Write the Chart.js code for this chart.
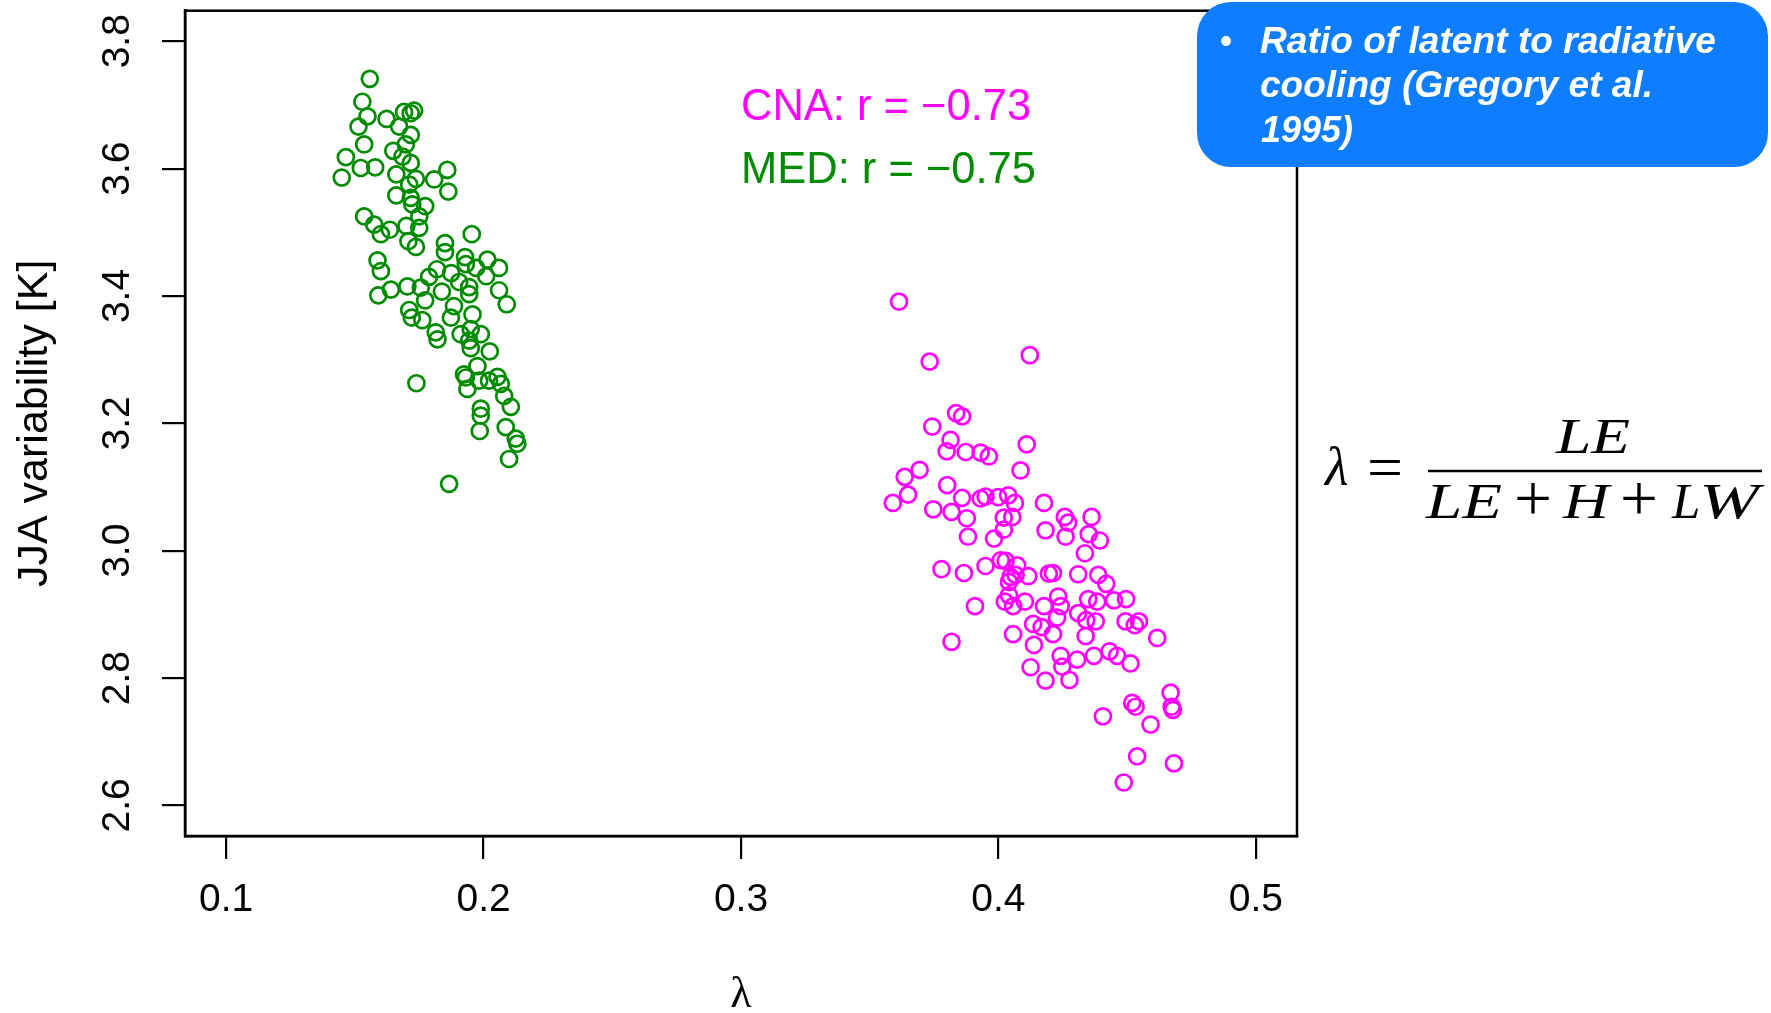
<!DOCTYPE html>
<html><head><meta charset="utf-8">
<script src="https://cdn.jsdelivr.net/npm/chart.js@4/dist/chart.umd.min.js"></script>
<style>
html,body{margin:0;padding:0;background:#fff;width:1771px;height:1013px;overflow:hidden}
#wrap{position:relative;width:1771px;height:1013px}
#c{position:absolute;left:0;top:0}
#ov{position:absolute;left:0;top:0}
</style></head><body>
<div id="wrap">
<canvas id="c" width="1771" height="1013"></canvas>
<svg id="ov" width="1771" height="1013" xmlns="http://www.w3.org/2000/svg">
  <rect x="1197" y="2" width="571" height="165" rx="34" ry="34" fill="#0F7DFF"/>
  <text x="1226" y="53" font-family="'Liberation Sans', Arial, sans-serif" font-size="36" fill="#fff" text-anchor="middle">•</text>
  <g font-family="'Liberation Sans', Arial, sans-serif" font-size="37" font-weight="bold" font-style="italic" fill="#fff">
    <text x="1260" y="53" textLength="456" lengthAdjust="spacingAndGlyphs">Ratio of latent to radiative</text>
    <text x="1260" y="97" textLength="393" lengthAdjust="spacingAndGlyphs">cooling (Gregory et al.</text>
    <text x="1261" y="142" textLength="92" lengthAdjust="spacingAndGlyphs">1995)</text>
  </g>
  <g font-family="'Liberation Serif', 'DejaVu Serif', serif" font-size="50" fill="#000">
    <text x="1325" y="485" font-style="italic" font-size="54">λ</text>
    <text x="1367" y="488" font-size="62" textLength="36" lengthAdjust="spacingAndGlyphs">=</text>
    <line x1="1428" y1="471" x2="1762" y2="471" stroke="#000" stroke-width="2.4"/>
    <text x="1556" y="453" font-style="italic" textLength="74" lengthAdjust="spacingAndGlyphs">LE</text>
    <text x="1426" y="518" font-style="italic" textLength="76" lengthAdjust="spacingAndGlyphs">LE</text>
    <text x="1514" y="520" font-size="66" textLength="38" lengthAdjust="spacingAndGlyphs">+</text>
    <text x="1563" y="518" font-style="italic" textLength="46" lengthAdjust="spacingAndGlyphs">H</text>
    <text x="1620" y="520" font-size="66" textLength="38" lengthAdjust="spacingAndGlyphs">+</text>
    <text x="1672" y="518" font-style="italic" font-size="51">L</text>
    <text x="1699" y="518" font-style="italic" font-size="51" textLength="60" lengthAdjust="spacingAndGlyphs">W</text>
  </g>
</svg>
</div>
<script>
// ---- data ----
const xTickValues = [0.1, 0.2, 0.3, 0.4, 0.5];
const xTickLabels = ['0.1', '0.2', '0.3', '0.4', '0.5'];
const yTickValues = [2.6, 2.8, 3.0, 3.2, 3.4, 3.6, 3.8];
const yTickLabels = ['2.6', '2.8', '3.0', '3.2', '3.4', '3.6', '3.8'];
const xTitle = 'λ';
const yTitle = 'JJA variability [K]';
const seriesNames = ['MED', 'CNA'];
const annotationTexts = ['CNA: r = \u22120.73', 'MED: r = \u22120.75'];

const medLambda = [0.1558,0.1529,0.1549,0.1514,0.1623,0.1691,0.1717,0.1730,0.1672,0.1717,0.1536,0.1465,0.1523,0.1579,0.1449,0.1649,0.1698,0.1685,0.1717,0.1661,0.1737,0.1711,0.1808,0.1859,0.1863,0.1661,0.1717,0.1723,0.1773,0.1536,0.1575,0.1601,0.1636,0.1700,0.1750,0.1708,0.1737,0.1750,0.1954,0.1850,0.1850,0.1928,0.2015,0.2060,0.1588,0.1601,
  0.1788,0.1819,0.1874,0.1905,0.1931,0.1971,0.1944,0.2010,
  0.1591,0.1640,0.1704,0.1756,0.1773,0.1838,0.2060,0.2090,0.1711,0.1721,0.1762,0.1885,0.1873,0.1944,0.1957,0.1814,0.1821,0.1911,0.1950,0.1989,0.1944,0.1950,0.2024,0.1976,0.1924,0.1931,0.1937,0.1983,0.2021,0.2054,0.2067,0.2080,0.2106,0.1739,0.1989,0.1989,0.1985,0.2086,0.2125,0.2131,0.2099,0.1866];
const medVar = [3.741,3.705,3.682,3.666,3.678,3.689,3.687,3.691,3.666,3.653,3.638,3.618,3.601,3.602,3.586,3.628,3.638,3.619,3.609,3.591,3.584,3.575,3.583,3.598,3.564,3.558,3.554,3.544,3.541,3.525,3.512,3.497,3.504,3.510,3.507,3.486,3.477,3.525,3.497,3.483,3.469,3.461,3.457,3.444,3.456,3.439,
  3.430,3.442,3.436,3.422,3.450,3.444,3.414,3.431,
  3.401,3.410,3.415,3.413,3.393,3.407,3.409,3.387,3.378,3.366,3.362,3.384,3.366,3.403,3.371,3.343,3.332,3.340,3.348,3.340,3.330,3.318,3.313,3.290,3.277,3.272,3.254,3.267,3.267,3.273,3.262,3.243,3.226,3.263,3.223,3.212,3.188,3.194,3.176,3.168,3.144,3.105];

const cnaLambda = [0.3614,0.3733,0.4122,0.3836,0.3859,0.3743,0.3814,0.3799,0.3873,0.3931,0.3963,0.4110,0.4086,0.3694,0.3636,0.3649,0.3590,0.3801,0.3859,0.3747,0.3818,0.3877,0.3931,0.3950,0.3999,0.4038,0.4064,0.4021,0.4054,0.4177,0.4021,0.3882,0.3983,0.4183,
  0.4258,0.4271,0.4362,0.4351,0.4261,0.4394,
  0.3779,0.3866,0.3950,0.4009,0.4028,0.4073,0.4047,0.4067,0.4116,0.4041,0.4196,0.3909,0.4025,0.4041,0.4057,0.4103,0.4177,0.3818,0.4057,0.4135,0.4168,0.4138,0.4125,0.4183,
  0.4336,0.4212,0.4310,0.4388,0.4419,0.4232,0.4242,0.4349,0.4384,0.4449,0.4496,0.4228,0.4310,0.4341,0.4378,0.4212,0.4339,0.4494,0.4530,0.4546,0.4617,0.4242,0.4306,0.4371,0.4432,0.4461,0.4513,0.4248,0.4276,0.4669,0.4673,0.4678,0.4520,0.4533,0.4406,0.4591,0.4539,0.4682,0.4487];
const cnaVar = [3.391,3.297,3.307,3.216,3.211,3.195,3.174,3.156,3.155,3.154,3.148,3.167,3.126,3.127,3.116,3.088,3.075,3.103,3.083,3.065,3.061,3.051,3.082,3.085,3.084,3.087,3.075,3.052,3.053,3.075,3.033,3.022,3.019,3.032,
  3.053,3.044,3.053,3.026,3.022,3.016,
  2.971,2.965,2.976,2.985,2.984,2.977,2.959,2.962,2.960,2.951,2.964,2.913,2.920,2.930,2.913,2.920,2.913,2.857,2.869,2.885,2.880,2.852,2.817,2.796,
  2.996,2.965,2.963,2.962,2.948,2.928,2.913,2.924,2.920,2.922,2.924,2.895,2.902,2.891,2.889,2.869,2.866,2.889,2.883,2.889,2.863,2.835,2.829,2.835,2.842,2.835,2.823,2.818,2.797,2.777,2.755,2.750,2.761,2.755,2.740,2.727,2.677,2.666,2.636];

// ---- styling ----
const MED_COLOR = '#008B00';
const CNA_COLOR = '#FF00FF';
const SANS = "'Liberation Sans', Arial, Helvetica, sans-serif";

const frameAndText = {
  id: 'frameAndText',
  afterDatasetsDraw(chart) {
    const {ctx, chartArea: a, scales: {x, y}} = chart;
    ctx.save();
    ctx.strokeStyle = '#000';
    ctx.lineWidth = 2.5;
    ctx.strokeRect(a.left, a.top, a.right - a.left, a.bottom - a.top);
    ctx.font = '43.5px ' + SANS;
    ctx.textAlign = 'left';
    ctx.textBaseline = 'alphabetic';
    ctx.fillStyle = CNA_COLOR;
    ctx.fillText(annotationTexts[0], x.getPixelForValue(0.3), y.getPixelForValue(3.7) + 15);
    ctx.fillStyle = MED_COLOR;
    ctx.fillText(annotationTexts[1], x.getPixelForValue(0.3), y.getPixelForValue(3.6) + 14);
    ctx.restore();
  }
};

const pointStyle = (color) => ({
  pointStyle: 'circle', pointRadius: 8, pointHoverRadius: 8,
  borderWidth: 2.7, borderColor: color, backgroundColor: 'rgba(0,0,0,0)'
});

new Chart(document.getElementById('c'), {
  type: 'scatter',
  data: {
    datasets: [
      Object.assign({label: seriesNames[0], data: medLambda.map((v, i) => ({x: v, y: medVar[i]}))}, pointStyle(MED_COLOR)),
      Object.assign({label: seriesNames[1], data: cnaLambda.map((v, i) => ({x: v, y: cnaVar[i]}))}, pointStyle(CNA_COLOR))
    ]
  },
  options: {
    responsive: false,
    animation: false,
    devicePixelRatio: 1,
    events: [],
    layout: {padding: {left: 0, top: 8, right: 474, bottom: 0}},
    plugins: {legend: {display: false}, tooltip: {enabled: false}},
    scales: {
      x: {
        type: 'linear', position: 'bottom',
        min: 0.1 - 0.016, max: 0.5 + 0.016,
        afterBuildTicks: (s) => { s.ticks = xTickValues.map(v => ({value: v})); },
        afterFit: (s) => { s.height = 177; s.paddingLeft = 0; s.paddingRight = 0; },
        ticks: {
          callback: (v, i) => xTickLabels[i],
          font: {family: SANS, size: 39}, color: '#000', padding: 18,
          maxRotation: 0, minRotation: 0, autoSkip: false
        },
        grid: {display: true, drawOnChartArea: false, drawTicks: true, tickLength: 23, tickWidth: 2.2, lineWidth: 2.2, tickColor: '#000', color: '#000'},
        border: {display: true, color: '#000', width: 2.5},
        title: {display: true, text: xTitle, color: '#000', font: {family: "'Liberation Serif', 'DejaVu Serif', serif", size: 44, lineHeight: 0.8}, padding: {top: 0, bottom: 0}}
      },
      y: {
        type: 'linear', position: 'left',
        min: 2.6 - 0.048, max: 3.8 + 0.048,
        afterBuildTicks: (s) => { s.ticks = yTickValues.map(v => ({value: v})); },
        afterFit: (s) => { s.width = 185; s.paddingTop = 0; s.paddingBottom = 0; },
        ticks: {
          callback: (v, i) => yTickLabels[i],
          font: {family: SANS, size: 39}, color: '#000', padding: 17,
          minRotation: 90, maxRotation: 90, crossAlign: 'center', autoSkip: false
        },
        grid: {display: true, drawOnChartArea: false, drawTicks: true, tickLength: 23, tickWidth: 2.2, lineWidth: 2.2, tickColor: '#000', color: '#000'},
        border: {display: true, color: '#000', width: 2.5},
        title: {display: true, text: yTitle, color: '#000', font: {family: SANS, size: 43, lineHeight: 1.2}, padding: {top: 9, bottom: 0}}
      }
    }
  },
  plugins: [frameAndText]
});
</script>
</body></html>
